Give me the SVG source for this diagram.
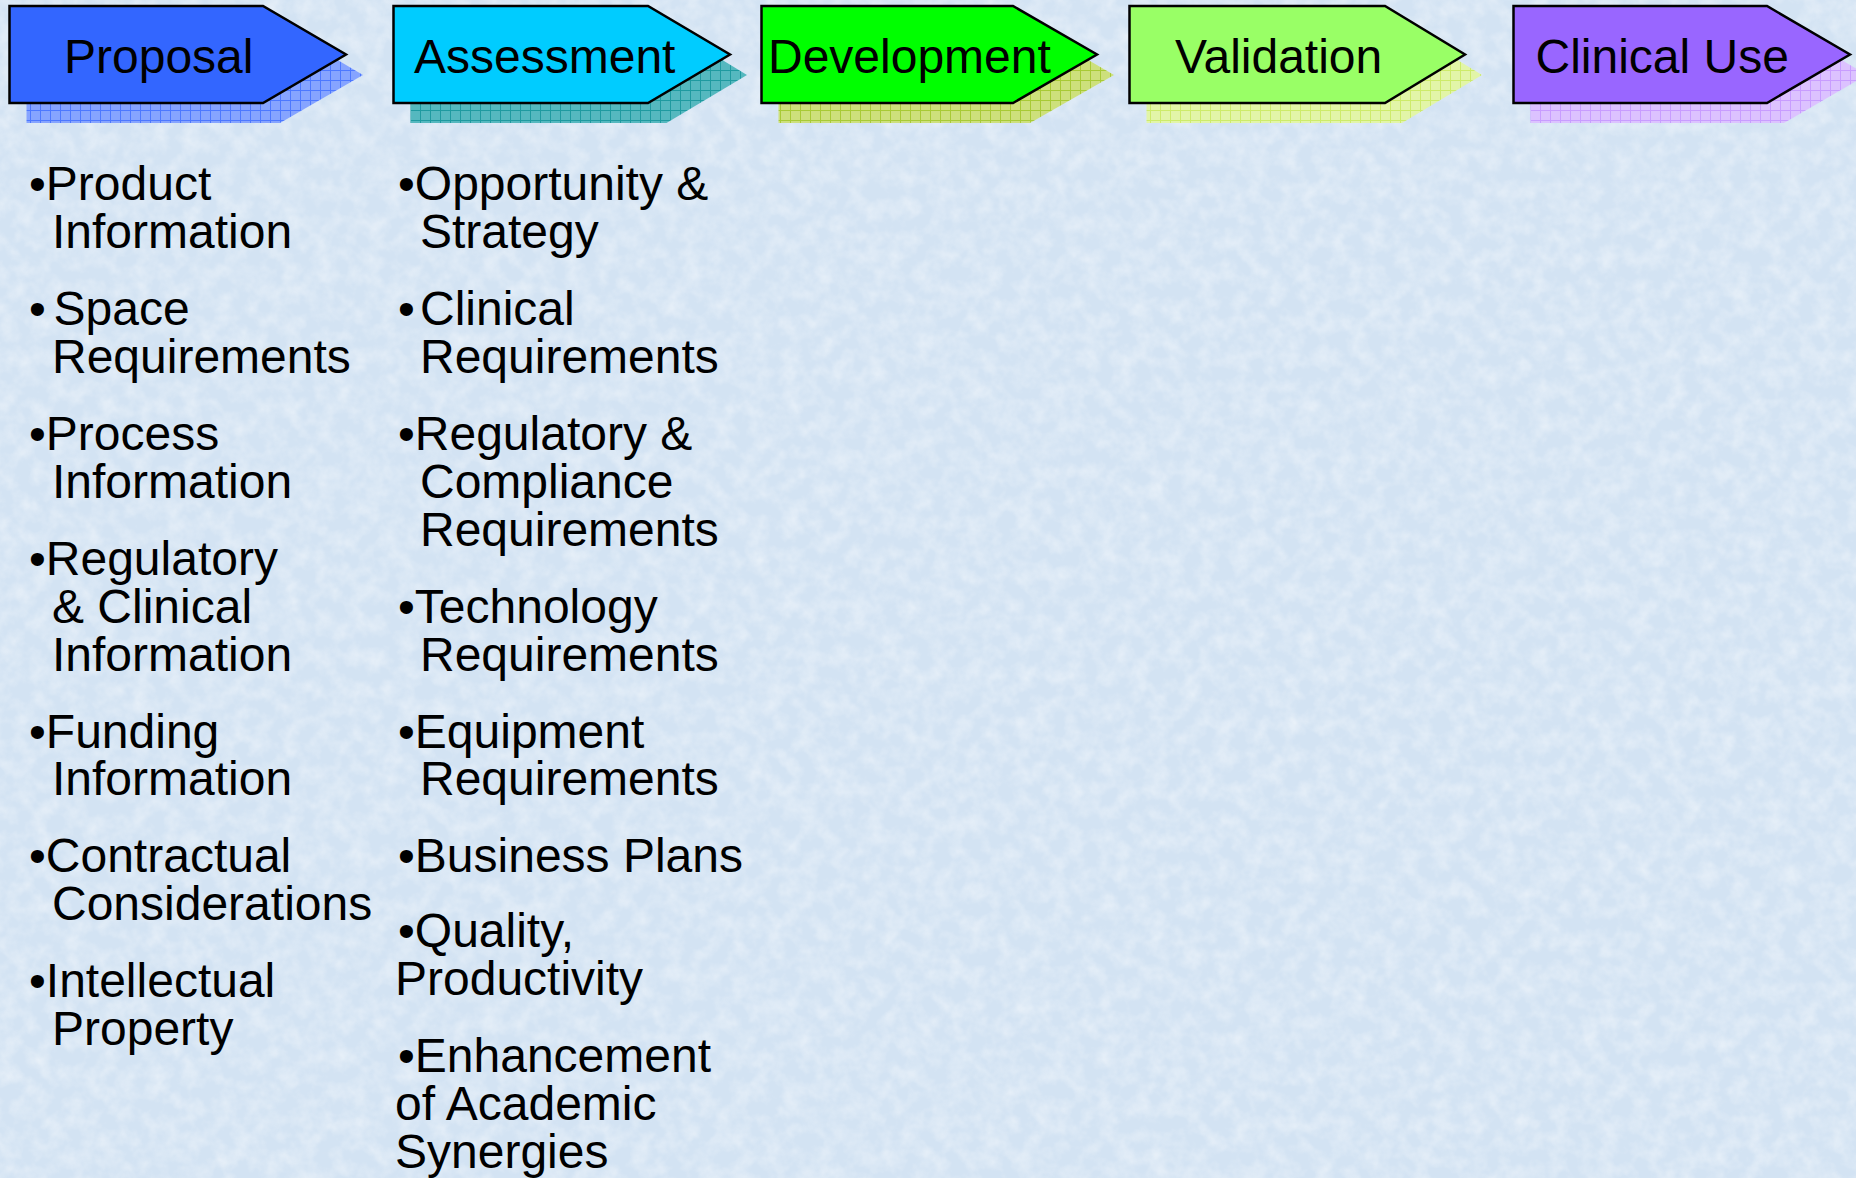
<svg xmlns="http://www.w3.org/2000/svg" width="1856" height="1178" viewBox="0 0 1856 1178">
<defs>
<style>
.lbl{font-family:"Liberation Sans",Arial,sans-serif;font-size:48px;fill:#000}
.txt{font-family:"Liberation Sans",Arial,sans-serif;font-size:48px;fill:#000}
.arrow{stroke:#000;stroke-width:2.5;stroke-linejoin:miter}
</style>
<filter id="tex" x="0" y="0" width="100%" height="100%">
<feTurbulence type="fractalNoise" baseFrequency="0.06" numOctaves="3" seed="7" result="n"/>
<feColorMatrix in="n" type="matrix" values="0 0 0 0 1  0 0 0 0 1  0 0 0 0 1  1.4 0 0 0 -0.5"/>
</filter>
<pattern id="g1" width="10" height="10" patternUnits="userSpaceOnUse"><rect width="10" height="10" fill="#86a4ff"/><path d="M0 0.5H10M0.5 0V10" stroke="#4d78ff" stroke-width="1"/></pattern>
<pattern id="g2" width="10" height="10" patternUnits="userSpaceOnUse"><rect width="10" height="10" fill="#55b8bf"/><path d="M0 0.5H10M0.5 0V10" stroke="#1f9aa0" stroke-width="1"/></pattern>
<pattern id="g3" width="10" height="10" patternUnits="userSpaceOnUse"><rect width="10" height="10" fill="#cde07c"/><path d="M0 0.5H10M0.5 0V10" stroke="#a8ca36" stroke-width="1"/></pattern>
<pattern id="g4" width="10" height="10" patternUnits="userSpaceOnUse"><rect width="10" height="10" fill="#e2f5a8"/><path d="M0 0.5H10M0.5 0V10" stroke="#cdeb6a" stroke-width="1"/></pattern>
<pattern id="g5" width="10" height="10" patternUnits="userSpaceOnUse"><rect width="10" height="10" fill="#dcc2ff"/><path d="M0 0.5H10M0.5 0V10" stroke="#c89dff" stroke-width="1"/></pattern>
</defs>
<rect width="1856" height="1178" fill="#d3e3f3"/>
<rect width="1856" height="1178" filter="url(#tex)" opacity="0.55"/>

<g id="proposal">
<polygon points="26.5,26 280,26 363,75 280,123 26.5,123" fill="url(#g1)"/>
<polygon class="arrow" points="9.5,6 263,6 346,54.5 263,103 9.5,103" fill="#3366ff"/>
<text class="lbl" x="64" y="73">Proposal</text>
</g>
<g id="assessment">
<polygon points="410.5,26 666.5,26 747,75 666.5,123 410.5,123" fill="url(#g2)"/>
<polygon class="arrow" points="393.5,6 648,6 730,54.5 648,103 393.5,103" fill="#00ccff"/>
<text class="lbl" x="414" y="73">Assessment</text>
</g>
<g id="development">
<polygon points="778.5,26 1030,26 1114,75 1030,123 778.5,123" fill="url(#g3)"/>
<polygon class="arrow" points="761.5,6 1013,6 1097,54.5 1013,103 761.5,103" fill="#00ff00"/>
<text class="lbl" x="768" y="73">Development</text>
</g>
<g id="validation">
<polygon points="1146.5,26 1402,26 1482,75 1402,123 1146.5,123" fill="url(#g4)"/>
<polygon class="arrow" points="1129.5,6 1385,6 1465,54.5 1385,103 1129.5,103" fill="#99ff66"/>
<text class="lbl" x="1175" y="73">Validation</text>
</g>
<g id="clinical-use">
<polygon points="1530.5,26 1784,26 1867,75 1784,123 1530.5,123" fill="url(#g5)"/>
<polygon class="arrow" points="1513.5,6 1767,6 1850,54.5 1767,103 1513.5,103" fill="#9966ff"/>
<text class="lbl" x="1535.5" y="73">Clinical Use</text>
</g>

<g id="proposal-items">
<text class="txt" x="29" y="200">•Product<tspan x="52" y="248">Information</tspan></text>
<text class="txt" x="29" y="324.5">•<tspan x="53.5">Space</tspan><tspan x="52" y="372.5">Requirements</tspan></text>
<text class="txt" x="29" y="449.5">•Process<tspan x="52" y="497.5">Information</tspan></text>
<text class="txt" x="29" y="574.5">•Regulatory<tspan x="52" y="622.5">&amp; Clinical</tspan><tspan x="52" y="670.5">Information</tspan></text>
<text class="txt" x="29" y="747.5">•Funding<tspan x="52" y="795">Information</tspan></text>
<text class="txt" x="29" y="871.5">•Contractual<tspan x="52" y="919.5">Considerations</tspan></text>
<text class="txt" x="29" y="996.5">•Intellectual<tspan x="52" y="1044.5">Property</tspan></text>
</g>

<g id="assessment-items">
<text class="txt" x="398" y="200">•Opportunity &amp;<tspan x="420" y="248">Strategy</tspan></text>
<text class="txt" x="398" y="324.5">•<tspan x="420">Clinical</tspan><tspan x="420" y="372.5">Requirements</tspan></text>
<text class="txt" x="398" y="449.5">•Regulatory &amp;<tspan x="420" y="497.5">Compliance</tspan><tspan x="420" y="545.5">Requirements</tspan></text>
<text class="txt" x="398" y="622.5">•Technology<tspan x="420" y="670.5">Requirements</tspan></text>
<text class="txt" x="398" y="747.5">•Equipment<tspan x="420" y="795">Requirements</tspan></text>
<text class="txt" x="398" y="871.5">•Business Plans</text>
<text class="txt" x="398" y="947">•Quality,<tspan x="395" y="994.5">Productivity</tspan></text>
<text class="txt" x="398" y="1071.5">•Enhancement<tspan x="395" y="1120">of Academic</tspan><tspan x="395" y="1167.5">Synergies</tspan></text>
</g>
</svg>
